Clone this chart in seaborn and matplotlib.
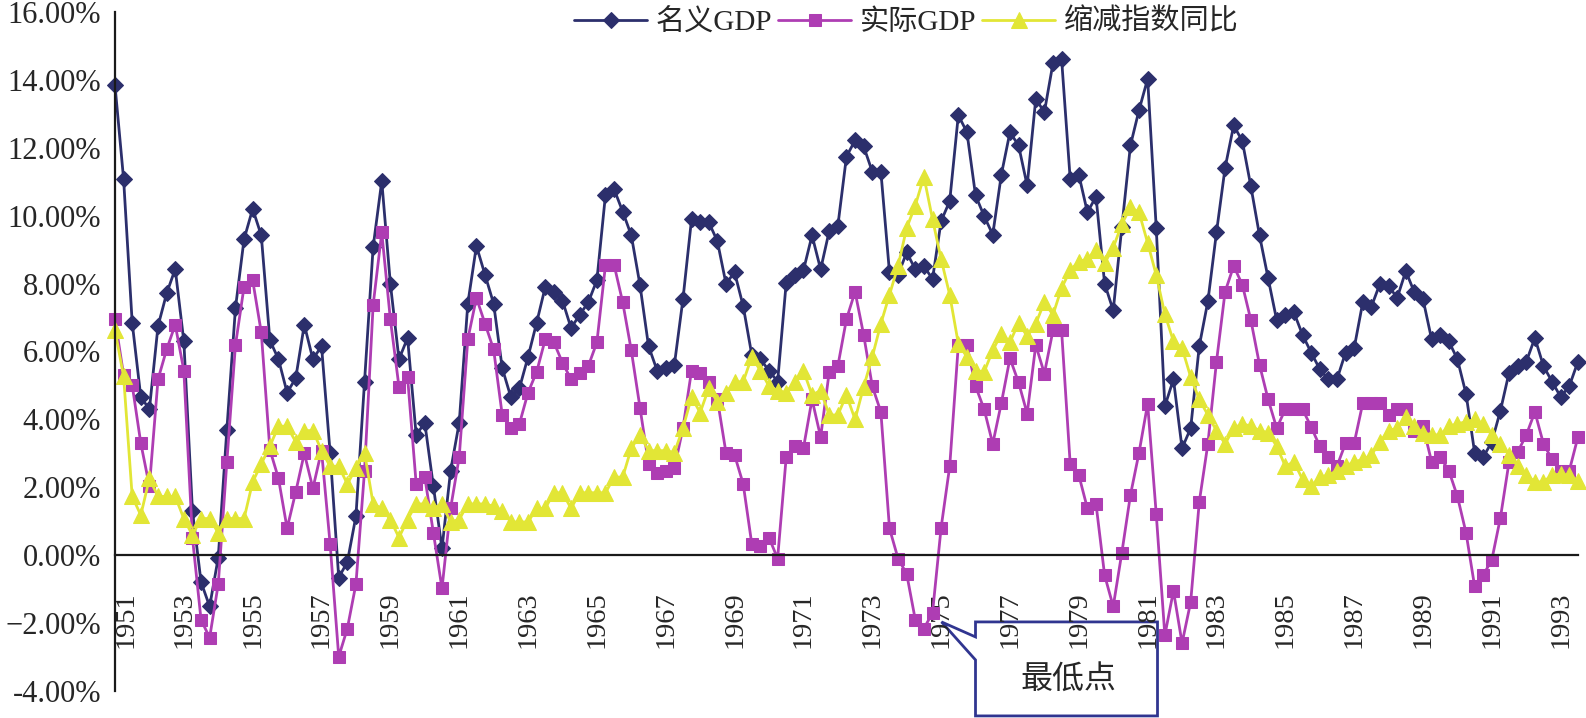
import numpy as np
import pandas as pd
import seaborn as sns
import matplotlib.pyplot as plt
from matplotlib import transforms
from matplotlib.patches import Polygon

# quarterly data, 1951Q1 .. 1993Q3 (percent, yoy)
nominal = [13.84, 11.08, 6.85, 4.66, 4.30, 6.75, 7.71, 8.43, 6.30, 1.31,
           -0.79, -1.51, -0.07, 3.70, 7.28, 9.31, 10.20, 9.42, 6.33, 5.77,
           4.79, 5.21, 6.79, 5.77, 6.16, 3.02, -0.66, -0.20, 1.15, 5.11,
           9.08, 11.02, 8.00, 5.77, 6.40, 3.54, 3.90, 2.03, 0.20, 2.49,
           3.90, 7.41, 9.11, 8.26, 7.41, 5.51, 4.66, 4.92, 5.84, 6.85,
           7.90, 7.76, 7.50, 6.69, 7.08, 7.45, 8.10, 10.62, 10.78, 10.12,
           9.42, 7.97, 6.16, 5.44, 5.51, 5.60, 7.54, 9.90, 9.81, 9.81,
           9.25, 8.00, 8.33, 7.34, 5.90, 5.77, 5.44, 5.11, 8.03, 8.24,
           8.39, 9.42, 8.42, 9.55, 9.70, 11.74, 12.22, 12.04, 11.30, 11.30,
           8.33, 8.26, 8.92, 8.42, 8.52, 8.13, 9.84, 10.43, 12.96, 12.46,
           10.60, 9.99, 9.44, 11.21, 12.46, 12.07, 10.89, 13.44, 13.05, 14.49,
           14.62, 11.08, 11.21, 10.10, 10.56, 8.00, 7.21, 9.66, 12.07, 13.11,
           14.03, 9.64, 4.39, 5.18, 3.15, 3.74, 6.16, 7.48, 9.51, 11.41,
           12.66, 12.20, 10.86, 9.42, 8.16, 6.92, 7.08, 7.15, 6.49, 5.97,
           5.48, 5.18, 5.18, 5.97, 6.10, 7.45, 7.32, 8.00, 7.93, 7.58,
           8.37, 7.74, 7.54, 6.36, 6.49, 6.30, 5.77, 4.75, 3.02, 2.89,
           3.34, 4.26, 5.38, 5.57, 5.70, 6.40, 5.57, 5.11, 4.66, 4.98,
           5.70]

real = [6.95, 5.31, 5.01, 3.30, 2.03, 5.18, 6.06, 6.79, 5.44, 0.52,
        -1.90, -2.43, -0.85, 2.75, 6.19, 7.91, 8.10, 6.56, 3.11, 2.26,
        0.79, 1.86, 3.00, 1.97, 3.08, 0.33, -2.99, -2.16, -0.85, 2.49,
        7.37, 9.51, 6.95, 4.96, 5.25, 2.10, 2.30, 0.66, -0.98, 1.38,
        2.89, 6.36, 7.58, 6.82, 6.06, 4.13, 3.74, 3.87, 4.79, 5.40,
        6.36, 6.27, 5.67, 5.18, 5.38, 5.57, 6.27, 8.55, 8.55, 7.45,
        6.03, 4.35, 2.69, 2.43, 2.49, 2.56, 3.74, 5.44, 5.38, 5.10,
        4.60, 3.02, 2.95, 2.10, 0.33, 0.26, 0.52, -0.10, 2.89, 3.21,
        3.15, 4.59, 3.48, 5.40, 5.57, 6.95, 7.76, 6.49, 4.98, 4.22,
        0.79, -0.10, -0.55, -1.90, -2.16, -1.70, 0.81, 2.62, 6.19, 6.19,
        4.98, 4.30, 3.28, 4.48, 5.80, 5.09, 4.17, 6.19, 5.35, 6.62,
        6.62, 2.69, 2.36, 1.38, 1.51, -0.59, -1.51, 0.07, 1.77, 3.02,
        4.46, 1.21, -2.36, -1.05, -2.59, -1.38, 1.57, 3.28, 5.70, 7.76,
        8.52, 7.97, 6.92, 5.61, 4.59, 3.74, 4.30, 4.30, 4.30, 3.78,
        3.21, 2.89, 2.62, 3.30, 3.30, 4.48, 4.48, 4.48, 4.13, 4.30,
        4.30, 3.67, 3.80, 2.75, 2.89, 2.49, 1.73, 0.66, -0.92, -0.59,
        -0.13, 1.11, 2.75, 3.04, 3.54, 4.22, 3.28, 2.82, 2.49, 2.49,
        3.48]

deflator = [6.62, 5.27, 1.73, 1.18, 2.26, 1.73, 1.73, 1.73, 1.08, 0.59,
            1.08, 1.08, 0.66, 1.08, 1.08, 1.08, 2.16, 2.69, 3.21, 3.80,
            3.80, 3.34, 3.67, 3.67, 3.08, 2.62, 2.62, 2.10, 2.56, 3.02,
            1.51, 1.38, 1.05, 0.52, 1.05, 1.51, 1.51, 1.38, 1.51, 0.98,
            1.05, 1.51, 1.51, 1.51, 1.44, 1.31, 0.98, 0.98, 0.98, 1.38,
            1.38, 1.84, 1.84, 1.38, 1.84, 1.84, 1.84, 1.84, 2.30, 2.30,
            3.15, 3.54, 3.08, 3.08, 3.08, 3.02, 3.74, 4.66, 4.20, 4.92,
            4.52, 4.79, 5.11, 5.11, 5.84, 5.44, 4.98, 4.85, 4.79, 5.11,
            5.44, 4.72, 4.85, 4.13, 4.13, 4.72, 4.00, 4.96, 5.84, 6.82,
            7.67, 8.52, 9.64, 10.30, 11.15, 9.90, 8.72, 7.67, 6.23, 5.84,
            5.44, 5.40, 6.03, 6.53, 6.27, 6.85, 6.45, 6.82, 7.45, 7.08,
            7.87, 8.39, 8.65, 8.72, 9.00, 8.60, 9.06, 9.75, 10.25, 10.10,
            9.20, 8.25, 7.10, 6.30, 6.10, 5.25, 4.59, 4.13, 3.67, 3.28,
            3.74, 3.87, 3.80, 3.67, 3.61, 3.21, 2.62, 2.75, 2.23, 2.03,
            2.30, 2.36, 2.49, 2.62, 2.75, 2.82, 2.95, 3.34, 3.67, 3.74,
            4.07, 3.80, 3.60, 3.55, 3.54, 3.80, 3.87, 3.93, 4.00, 3.87,
            3.54, 3.28, 2.95, 2.62, 2.36, 2.16, 2.16, 2.36, 2.39, 2.36,
            2.20]

year_labels = [str(y) for y in range(1951, 1994, 2)]
y_ticks = [-4, -2, 0, 2, 4, 6, 8, 10, 12, 14, 16]
y_labels = ['-4.00%', '\u22122.00%', '0.00%', '2.00%', '4.00%', '6.00%',
            '8.00%', '10.00%', '12.00%', '14.00%', '16.00%']
series_names = ['名义GDP', '实际GDP', '缩减指数同比']
low_point_idx = 95  # 1974Q4, trough of real GDP

navy = '#2C2F6C'
magenta = '#AE3DB3'
yellow = '#E2E636'

sns.set_style("white")
plt.rcParams['font.family'] = ['Liberation Serif', 'Noto Sans CJK SC']

fig = plt.figure(figsize=(15.86, 7.18), dpi=100)
ax = fig.add_axes([0.0725, 0.0376, 0.9224, 0.9457])
ax.patch.set_visible(False)  # let the callout sit underneath the tick labels

df = pd.DataFrame({'q': np.arange(len(nominal)),
                   series_names[0]: nominal,
                   series_names[1]: real,
                   series_names[2]: deflator})

styles = [(series_names[0], navy, 'D', 8),
          (series_names[1], magenta, 's', 9),
          (series_names[2], yellow, '^', 11)]
for name, col, mk, ms in styles:
    sns.lineplot(data=df, x='q', y=name, ax=ax, color=col, marker=mk,
                 markersize=ms, markeredgecolor=col, markerfacecolor=col,
                 linewidth=2, label=name, clip_on=False)

ax.set_xlim(0, len(nominal) - 1)
ax.set_ylim(-4, 16)
ax.set_xlabel('')
ax.set_ylabel('')

ax.spines['top'].set_visible(False)
ax.spines['right'].set_visible(False)
ax.spines['bottom'].set_position(('data', 0))
for s in ['left', 'bottom']:
    ax.spines[s].set_color('#1a1a1a')
    ax.spines[s].set_linewidth(1.6)

ax.set_xticks(np.arange(0, len(nominal), 8))
ax.set_xticklabels(year_labels, rotation=90, fontsize=20.5)
ax.set_yticks(y_ticks)
ax.set_yticklabels(y_labels, fontsize=22)
ax.tick_params(axis='x', direction='in', length=6, width=1.5, pad=26)
ax.tick_params(axis='y', direction='in', length=6, width=1.5, pad=10)

# excel nudges the first year label away from the y axis
first = ax.get_xticklabels()[0]
first.set_transform(first.get_transform() +
                    transforms.ScaledTranslation(0.11, 0, fig.dpi_scale_trans))

ax.legend(loc='center', bbox_to_anchor=(0.541, 0.985), ncol=3, frameon=False,
          fontsize=21, handlelength=2.5, handletextpad=0.3, columnspacing=0.2,
          borderaxespad=0)

# callout box pointing to the real GDP low point (drawn below the axes layer)
tx, ty = ax.transData.transform((low_point_idx, real[low_point_idx]))
offs = [(9, -9), (43, -24), (43, -9), (225, -9), (225, -103), (43, -103), (43, -47)]
verts = [(tx + dx, ty + dy) for dx, dy in offs]
callout = Polygon(verts, closed=True, facecolor='white', edgecolor='#303590',
                  linewidth=2, transform=transforms.IdentityTransform(),
                  clip_on=False, zorder=-1)
fig.patches.append(callout)
callout.set_figure(fig)
fx, fy = fig.transFigure.inverted().transform((tx + 136, ty - 67))
fig.text(fx, fy, '最低点', ha='center', va='center', fontsize=23, zorder=11)

fig.savefig('out.png', dpi=100, facecolor='white')
